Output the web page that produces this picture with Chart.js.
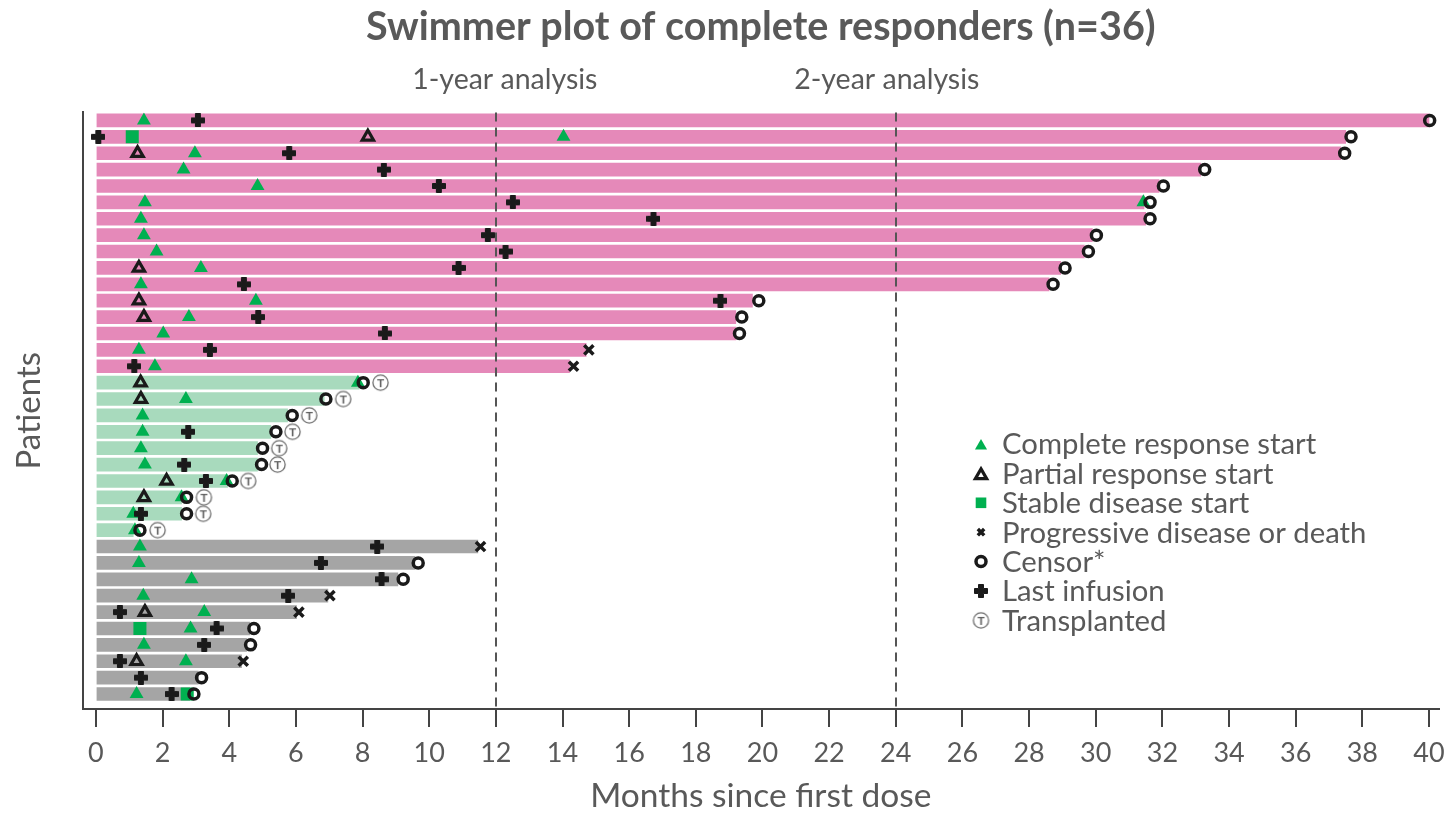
<!DOCTYPE html>
<html><head><meta charset="utf-8">
<script src="https://cdn.jsdelivr.net/npm/chart.js@4.4.1/dist/chart.umd.min.js"></script>
<style>html,body{margin:0;padding:0;background:#fff;} #wrap{width:1449px;height:813px;position:relative;}</style>
</head><body><div id="wrap"><canvas id="c"></canvas></div>
<script>
// ---------------- DATA ----------------
const patientIds = ['P01','P02','P03','P04','P05','P06','P07','P08','P09','P10','P11','P12','P13','P14','P15','P16','P17','P18','P19','P20','P21','P22','P23','P24','P25','P26','P27','P28','P29','P30','P31','P32','P33','P34','P35','P36'];
const cohort = ['A','A','A','A','A','A','A','A','A','A','A','A','A','A','A','A','B','B','B','B','B','B','B','B','B','B','C','C','C','C','C','C','C','C','C','C'];
const durationMonths = [40.0,37.5,37.35,33.15,31.9,31.45,31.5,29.9,29.66,28.95,28.6,19.7,19.2,19.2,14.71,14.21,7.9,6.85,5.75,5.25,4.85,4.85,3.95,2.57,2.57,1.12,11.46,9.57,9.06,6.96,6.02,4.62,4.52,4.37,3.07,2.82];
const completeResponse = [[1.44],[14.03],[2.97],[2.63],[4.85],[1.47,31.43],[1.35],[1.44],[1.82],[3.15],[1.35],[4.80],[2.79],[2.02],[1.29],[1.77],[7.86],[2.70],[1.40],[1.40],[1.35],[1.47],[3.92],[2.57],[1.12],[1.17],[1.32],[1.29],[2.87],[1.42],[3.25],[2.84],[1.44],[2.70],[],[1.22]];
const partialResponse = [[],[8.16],[1.25],[],[],[],[],[],[],[1.29],[],[1.29],[1.44],[],[],[],[1.34],[1.35],[],[],[],[],[2.12],[1.44],[],[],[],[],[],[],[1.47],[],[],[1.22],[],[]];
const stableDisease = [[],[1.09],[],[],[],[],[],[],[],[],[],[],[],[],[],[],[],[],[],[],[],[],[],[],[],[],[],[],[],[],[],[1.32],[],[],[],[2.74]];
const progression = [[],[],[],[],[],[],[],[],[],[],[],[],[],[],[14.79],[14.33],[],[],[],[],[],[],[],[],[],[],[11.54],[],[],[7.02],[6.09],[],[],[4.42],[],[]];
const censor = [[40.02],[37.66],[37.47],[33.27],[32.03],[31.63],[31.63],[30.02],[29.78],[29.08],[28.72],[19.89],[19.38],[19.31],[],[],[8.02],[6.90],[5.89],[5.40],[5.00],[4.97],[4.09],[2.72],[2.72],[1.32],[],[9.67],[9.22],[],[],[4.74],[4.64],[],[3.17],[2.94]];
const lastInfusion = [[3.06],[0.07],[5.80],[8.64],[10.29],[12.51],[16.73],[11.76],[12.29],[10.88],[4.44],[18.74],[4.87],[8.67],[3.42],[1.15],[],[],[],[2.77],[],[2.65],[3.30],[],[1.35],[],[8.44],[6.75],[8.57],[5.77],[0.72],[3.62],[3.25],[0.72],[1.35],[2.27]];
const transplanted = [[],[],[],[],[],[],[],[],[],[],[],[],[],[],[],[],[8.54],[7.42],[6.40],[5.90],[5.50],[5.45],[4.57],[3.24],[3.22],[1.85],[],[],[],[],[],[],[],[],[],[]];
const xTickValues = [0,2,4,6,8,10,12,14,16,18,20,22,24,26,28,30,32,34,36,38,40];
const analysisMonths = [12, 24];
const analysisLabels = ['1-year analysis', '2-year analysis'];
const legendLabels = ['Complete response start','Partial response start','Stable disease start','Progressive disease or death','Censor*','Last infusion','Transplanted'];

// ---------------- STYLES ----------------
const FONT = 'Lato';
const TXT = '#595959';
const cohortColor = {A:'#E589B9', B:'#A8DABD', C:'#A5A5A5'};
const GREEN = '#00B050';
const INK = '#1a1a1a';

function plusImg(){
  const c = document.createElement('canvas'); c.width = 14; c.height = 14;
  const g = c.getContext('2d'); g.fillStyle = INK;
  g.beginPath();
  g.moveTo(4.5,0.5); g.lineTo(9.5,0.5); g.lineTo(9.5,4.5); g.lineTo(13.5,4.5); g.lineTo(13.5,9.5);
  g.lineTo(9.5,9.5); g.lineTo(9.5,13.5); g.lineTo(4.5,13.5); g.lineTo(4.5,9.5); g.lineTo(0.5,9.5);
  g.lineTo(0.5,4.5); g.lineTo(4.5,4.5); g.closePath();
  g.fill(); g.lineJoin='round'; g.lineWidth=1; g.strokeStyle=INK; g.stroke();
  return c;
}
function tImg(){
  const c = document.createElement('canvas'); c.width = 19; c.height = 19;
  const g = c.getContext('2d');
  g.beginPath(); g.arc(9.5,9.5,7.6,0,Math.PI*2); g.fillStyle='#fff'; g.fill();
  g.lineWidth=1.3; g.strokeStyle='#6f6f6f'; g.stroke();
  g.fillStyle='#5f5f5f'; g.font='bold 12px '+FONT; g.textAlign='center'; g.textBaseline='middle';
  g.fillText('T',9.5,10);
  return c;
}
const PLUS = plusImg();
const TCIRC = tImg();

function points(arr){
  const out = [];
  arr.forEach((vals, i) => vals.forEach(v => out.push({x: v, y: i})));
  return out;
}

const markerDefs = [
  {label: legendLabels[0], src: completeResponse, pointStyle:'triangle', radius:8, bg:GREEN, bc:GREEN, bw:0, order:6},
  {label: legendLabels[1], src: partialResponse, pointStyle:'triangle', radius:6.5, bg:'rgba(0,0,0,0)', bc:INK, bw:3.2, order:5},
  {label: legendLabels[2], src: stableDisease, pointStyle:'rect', radius:9.2, bg:GREEN, bc:GREEN, bw:0, order:7},
  {label: legendLabels[3], src: progression, pointStyle:'crossRot', radius:6.5, bg:INK, bc:INK, bw:3.5, order:4},
  {label: legendLabels[4], src: censor, pointStyle:'circle', radius:5, bg:'rgba(0,0,0,0)', bc:INK, bw:3.5, order:1},
  {label: legendLabels[5], src: lastInfusion, pointStyle:PLUS, radius:7, bg:INK, bc:INK, bw:0, order:3},
  {label: legendLabels[6], src: transplanted, pointStyle:TCIRC, radius:9, bg:'#fff', bc:'#777', bw:0, order:2}
];

const datasets = [{
  type: 'bar',
  label: 'Duration',
  indexAxis: 'y',
  data: durationMonths.map((d, i) => ({x: [0, d], y: i})),
  backgroundColor: cohort.map(c => cohortColor[c]),
  borderWidth: 0,
  barThickness: 13,
  order: 10
}];
markerDefs.forEach(m => datasets.push({
  type: 'scatter',
  label: m.label,
  data: points(m.src),
  pointStyle: m.pointStyle,
  pointRadius: m.radius,
  pointBackgroundColor: m.bg,
  pointBorderColor: m.bc,
  pointBorderWidth: m.bw,
  pointHoverRadius: m.radius,
  order: m.order
}));

const overlayPlugin = {
  id: 'overlay',
  afterDatasetsDraw(chart){
    const {ctx, chartArea, scales:{x}} = chart;
    ctx.save();
    ctx.strokeStyle = '#555'; ctx.lineWidth = 2; ctx.setLineDash([9,6]);
    analysisMonths.forEach(m => {
      const px = Math.round(x.getPixelForValue(m));
      ctx.beginPath(); ctx.moveTo(px, chartArea.top); ctx.lineTo(px, chartArea.bottom); ctx.stroke();
    });
    ctx.restore();
  },
  afterDraw(chart){
    const {ctx, scales:{x}} = chart;
    ctx.save();
    ctx.fillStyle = TXT; ctx.textAlign = 'center'; ctx.textBaseline = 'middle';
    ctx.font = '28.5px ' + FONT;
    const shifts = [9, -9];
    analysisMonths.forEach((m, i) => ctx.fillText(analysisLabels[i], x.getPixelForValue(m) + shifts[i], 80));
    // legend
    const lx = 981, tx = 1002, y0 = 444, dy = 29.4;
    const legendSizes = [7, 6.5, 7.5, 4.5, 5, 7, 9];
    ctx.font = '29.3px ' + FONT; ctx.textAlign = 'left';
    markerDefs.forEach((m, i) => {
      const y = y0 + i * dy;
      ctx.save();
      ctx.fillStyle = m.bg; ctx.strokeStyle = m.bc; ctx.lineWidth = m.bw;
      Chart.helpers.drawPoint(ctx, {pointStyle: m.pointStyle, radius: legendSizes[i], borderWidth: m.bw, rotation: 0}, lx, y + (m.pointStyle === 'triangle' ? 2 : 0));
      ctx.restore();
      ctx.fillStyle = TXT;
      ctx.fillText(m.label, tx, y + 1);
    });
    ctx.restore();
  }
};

Chart.defaults.font.family = FONT;
new Chart(document.getElementById('c'), {
  type: 'bar',
  data: {labels: patientIds, datasets},
  options: {
    responsive: true,
    maintainAspectRatio: false,
    animation: false,
    layout: {padding: {left: 0, right: 9, top: 0, bottom: 0}},
    plugins: {
      legend: {display: false},
      tooltip: {enabled: false},
      title: {
        display: true,
        fullSize: false,
        text: 'Swimmer plot of complete responders (n=36)',
        color: TXT,
        font: {family: FONT, size: 39.5, weight: 'bold'},
        padding: {top: 4, bottom: 61}
      }
    },
    scales: {
      x: {
        type: 'linear',
        offset: false,
        min: -0.4, max: 40.3,
        afterBuildTicks: s => { s.ticks = xTickValues.map(v => ({value: v})); },
        afterFit: s => { s.paddingRight = 0; s.paddingLeft = 0; },
        grid: {display: true, offset: false, drawOnChartArea: false, drawTicks: true, tickLength: 18, color: '#444', lineWidth: 2},
        border: {display: true, color: '#444', width: 2},
        ticks: {color: TXT, font: {family: FONT, size: 27}, padding: 10, maxRotation: 0, autoSkip: false},
        title: {display: true, text: 'Months since first dose', color: TXT, font: {family: FONT, size: 33.5, lineHeight: 1.0}, padding: {top: 0, bottom: 0}}
      },
      y: {
        type: 'linear',
        offset: false,
        reverse: true,
        min: -0.49, max: 35.92,
        ticks: {display: false},
        grid: {display: false, offset: false, drawTicks: false},
        border: {display: true, color: '#444', width: 2},
        title: {display: true, text: 'Patients', color: TXT, font: {family: FONT, size: 33}, padding: {top: 10, bottom: 33}}
      }
    }
  },
  plugins: [overlayPlugin]
});
</script>
</body></html>
